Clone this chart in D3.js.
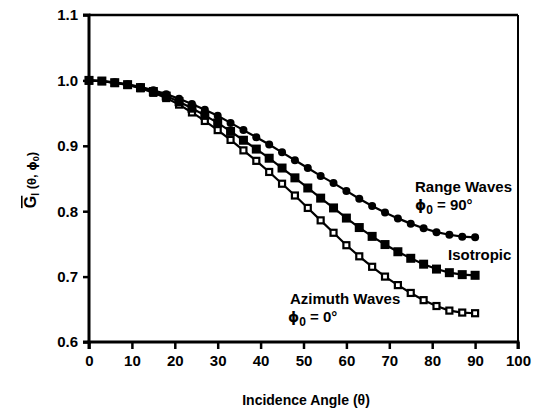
<!DOCTYPE html>
<html><head><meta charset="utf-8">
<script src="https://cdn.jsdelivr.net/npm/d3@7"></script>
<style>
html,body{margin:0;padding:0;background:#fff;}
svg text{font-family:"Liberation Sans",Arial,Helvetica,sans-serif;fill:#000;}
</style></head>
<body>
<svg id="chart" width="537" height="415"></svg>
<script>
const angles = [0,3,6,9,12,15,18,21,24,27,30,33,36,39,42,45,48,51,54,57,60,63,66,69,72,75,78,81,84,87,90];
const rangeWaves = [1.000,0.999,0.997,0.994,0.990,0.985,0.979,0.972,0.964,0.955,0.946,0.935,0.924,0.913,0.902,0.890,0.878,0.866,0.854,0.843,0.831,0.819,0.808,0.798,0.789,0.781,0.774,0.768,0.764,0.761,0.760];
const isotropic = [1.000,0.999,0.9965,0.9935,0.989,0.983,0.976,0.9675,0.9575,0.9465,0.935,0.922,0.9085,0.895,0.881,0.866,0.851,0.8355,0.820,0.805,0.7895,0.775,0.7615,0.749,0.738,0.728,0.719,0.7115,0.706,0.703,0.702];
const azimuthWaves = [1.000,0.999,0.996,0.993,0.988,0.981,0.973,0.963,0.951,0.938,0.924,0.909,0.893,0.877,0.860,0.842,0.824,0.805,0.786,0.767,0.748,0.731,0.715,0.700,0.687,0.675,0.664,0.655,0.648,0.645,0.644];
const xTicks = [0,10,20,30,40,50,60,70,80,90,100];
const yTicks = [0.6,0.7,0.8,0.9,1.0,1.1];

const svg = d3.select("#chart");
const L = 89, R = 518, T = 15, B = 342;
const x = d3.scaleLinear().domain([0,100]).range([L,R]);
const y = d3.scaleLinear().domain([0.6,1.1]).range([B,T]);

// frame top/right
svg.append("line").attr("x1",L).attr("x2",R).attr("y1",T).attr("y2",T).attr("stroke","#000").attr("stroke-width",2.5);
svg.append("line").attr("x1",R).attr("x2",R).attr("y1",T).attr("y2",B).attr("stroke","#000").attr("stroke-width",2);

// axes
const xAxis = svg.append("g").attr("transform",`translate(0,${B})`)
  .call(d3.axisBottom(x).tickValues(xTicks).tickFormat(d3.format("d")).tickSize(7).tickPadding(6));
const yAxis = svg.append("g").attr("transform",`translate(${L},0)`)
  .call(d3.axisLeft(y).tickValues(yTicks).tickFormat(d3.format(".1f")).tickSize(6).tickPadding(5));
[xAxis,yAxis].forEach(g=>{
  g.select(".domain").attr("stroke","#000").attr("stroke-width",3);
  g.selectAll(".tick line").attr("stroke","#000").attr("stroke-width",2.5);
  g.selectAll(".tick text").attr("font-size",15).attr("font-weight","bold")
   .attr("font-family","'Liberation Sans',Arial,sans-serif").attr("fill","#000");
});
yAxis.select(".domain").attr("d",`M-6,${y(0.6)}H0V${y(1.1)}H-6`);
xAxis.select(".domain").attr("d",`M${L},7V0H${R}V7`);

const line = d3.line().x((d,i)=>x(angles[i])).y(d=>y(d));
const series = [
  {vals: azimuthWaves, type:"open"},
  {vals: isotropic, type:"square"},
  {vals: rangeWaves, type:"circle"}
];
series.forEach(s=>{
  svg.append("path").datum(s.vals).attr("d",line).attr("fill","none").attr("stroke","#000").attr("stroke-width",2.2);
});
series.forEach(s=>{
  const g = svg.append("g");
  if (s.type==="circle") {
    g.selectAll("circle").data(s.vals).join("circle")
      .attr("cx",(d,i)=>x(angles[i])).attr("cy",d=>y(d)).attr("r",4).attr("fill","#000");
  } else if (s.type==="square") {
    g.selectAll("rect").data(s.vals).join("rect")
      .attr("x",(d,i)=>x(angles[i])-4.5).attr("y",d=>y(d)-4.5).attr("width",9).attr("height",9).attr("fill","#000");
  } else {
    g.selectAll("rect").data(s.vals).join("rect")
      .attr("x",(d,i)=>x(angles[i])-3).attr("y",d=>y(d)-3).attr("width",6).attr("height",6)
      .attr("fill","#fff").attr("stroke","#000").attr("stroke-width",2.2);
  }
});

// annotations
function phiLabel(xp, yp, deg) {
  const t = svg.append("text").attr("x",xp).attr("y",yp).attr("font-size",15).attr("font-weight","bold");
  t.append("tspan").attr("font-family","'DejaVu Sans',sans-serif").attr("font-size",14).text("ϕ");
  t.append("tspan").attr("font-size",12).attr("dy",4).text("0");
  t.append("tspan").attr("dy",-4).text(" = " + deg + "°");
}
svg.append("text").attr("x",415).attr("y",192).attr("font-size",15).attr("font-weight","bold").text("Range Waves");
phiLabel(415, 210, 90);
svg.append("text").attr("x",448).attr("y",260).attr("font-size",15).attr("font-weight","bold").text("Isotropic");
svg.append("text").attr("x",290).attr("y",304).attr("font-size",15).attr("font-weight","bold").text("Azimuth Waves");
phiLabel(288, 322, 0);

// axis titles
svg.append("text").attr("x",306).attr("y",405).attr("text-anchor","middle").attr("font-size",14).attr("font-weight","bold")
  .text("Incidence Angle (θ)");
const yl = svg.append("text").attr("transform","translate(36,180) rotate(-90)").attr("text-anchor","middle")
  .attr("font-size",16).attr("font-weight","bold");
yl.append("tspan").attr("text-decoration","overline").text("G");
yl.append("tspan").attr("font-size",10).attr("dy",3).text("I");
yl.append("tspan").attr("font-size",13).attr("dy",-3).text(" (θ, ");
yl.append("tspan").attr("font-family","'DejaVu Sans',sans-serif").attr("font-size",12).text("ϕ");
yl.append("tspan").attr("font-size",9).attr("dy",3).text("0");
yl.append("tspan").attr("font-size",13).attr("dy",-3).text(")");
</script>
</body></html>
